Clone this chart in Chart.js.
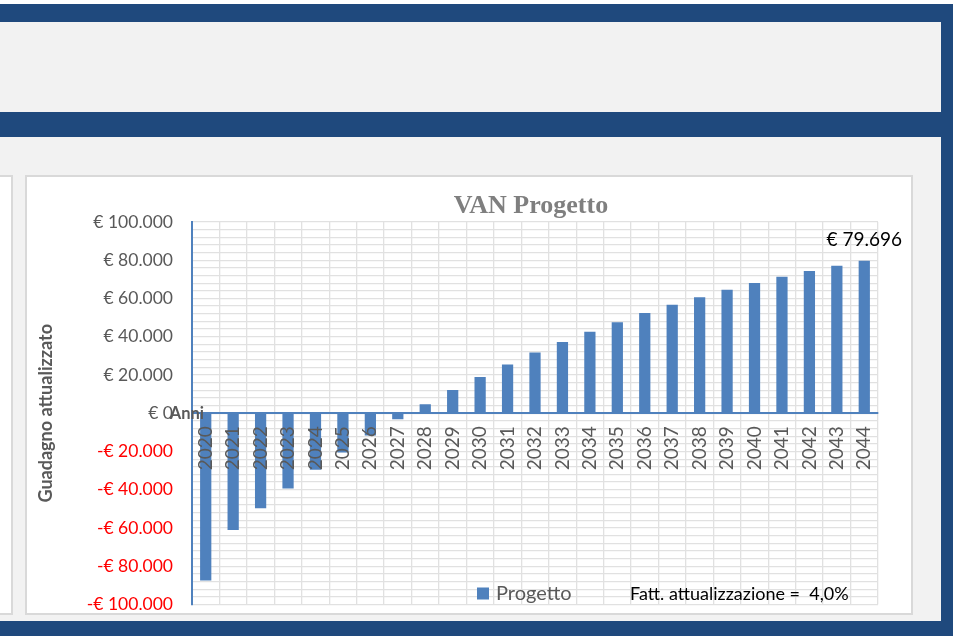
<!DOCTYPE html>
<html lang="it">
<head>
<meta charset="utf-8">
<title>VAN Progetto</title>
<script src="https://cdn.jsdelivr.net/npm/chart.js@4.4.1/dist/chart.umd.min.js"></script>
<style>
  html, body { margin: 0; padding: 0; background: #ffffff; }
  body { width: 967px; height: 636px; position: relative; overflow: hidden; }
  .blu { position: absolute; left: 0; top: 4px; width: 953px; height: 632px; background: #1f497d; }
  .grigio { position: absolute; left: 0; width: 941px; background: #f2f2f2; }
  .card { position: absolute; top: 175px; height: 440px; background: #fff; border: 2px solid #d9d9d9; box-sizing: border-box; }
  #grafico { position: absolute; left: 25px; top: 175px; }
</style>
</head>
<body>
<div class="blu"></div>
<div class="grigio" style="top:22px;height:90px"></div>
<div class="grigio" style="top:137px;height:484px"></div>
<div class="card" style="left:-2px;width:15px"></div>
<div class="card" style="left:25px;width:888px"></div>
<canvas id="grafico" width="888" height="459"></canvas>

<script>
// dati
var anni = ['2020', '2021', '2022', '2023', '2024', '2025', '2026', '2027', '2028', '2029',
            '2030', '2031', '2032', '2033', '2034', '2035', '2036', '2037', '2038', '2039',
            '2040', '2041', '2042', '2043', '2044'];
var van = [-87400, -61100, -49700, -39400, -29600, -20500, -11600, -3100, 4700, 12200,
           19000, 25500, 31800, 37300, 42600, 47600, 52400, 56700, 60700, 64600,
           68100, 71400, 74400, 77100, 79696];
var yMin = -100000, yMax = 100000, yPasso = 4000, yEtichetta = 20000;
var tasso = '4,0%';

var blu = '#4f81bd';
var griglia = '#e1e1e1';
var grigioTesto = '#595959';

function eur(v) {
    var s = Math.abs(v).toFixed(0).replace(/\B(?=(\d{3})+(?!\d))/g, '.');
    return (v < 0 ? '-' : '') + '€ ' + s;
}

Chart.defaults.font.family = 'Lato';

var decorazioni = {
    id: 'decorazioni',
    afterDraw: function(chart) {
        var ctx = chart.ctx;
        var area = chart.chartArea;
        var zero = chart.scales.y.getPixelForValue(0);
        ctx.save();

        // titolo
        ctx.font = 'bold 26px "Liberation Serif"';
        ctx.fillStyle = '#7f7f7f';
        ctx.textAlign = 'center';
        ctx.textBaseline = 'alphabetic';
        ctx.fillText('VAN Progetto', (area.left + area.right) / 2 - 4, area.top - 9);

        // etichetta ultimo valore
        var meta = chart.getDatasetMeta(0);
        var last = meta.data[meta.data.length - 1];
        ctx.font = '19px Lato';
        ctx.fillStyle = '#000000';
        ctx.fillText(eur(van[van.length - 1]), last.x, last.y - 15);

        // titolo asse x
        ctx.font = 'bold 16.5px Lato';
        ctx.fillStyle = grigioTesto;
        ctx.textAlign = 'right';
        ctx.textBaseline = 'middle';
        ctx.fillText('Anni', area.left + 12, zero);

        // legenda
        var lx = area.left + 285, ly = area.bottom - 5;
        ctx.fillStyle = blu;
        ctx.fillRect(lx, ly - 12, 12, 12);
        ctx.textAlign = 'left';
        ctx.textBaseline = 'alphabetic';
        ctx.font = '20px Lato';
        ctx.fillStyle = grigioTesto;
        ctx.fillText('Progetto', lx + 19, ly);
        ctx.font = '18px Lato';
        ctx.fillStyle = '#000000';
        ctx.fillText('Fatt. attualizzazione =  ' + tasso, area.left + 438, ly);

        ctx.restore();
    }
};

var ctx = document.getElementById('grafico').getContext('2d');
var chart = new Chart(ctx, {
    type: 'bar',
    data: {
        labels: anni,
        datasets: [{
            label: 'Progetto',
            data: van,
            backgroundColor: blu,
            barPercentage: 0.41,
            categoryPercentage: 1
        }]
    },
    options: {
        responsive: false,
        animation: false,
        layout: {
            padding: { left: 6, right: 35, top: 47, bottom: 11 }
        },
        plugins: {
            legend: { display: false },
            tooltip: { enabled: false }
        },
        scales: {
            x: {
                position: { y: 0 },
                grid: { offset: true, color: griglia, lineWidth: 1.3, drawTicks: false },
                border: { color: blu, width: 2 },
                ticks: {
                    autoSkip: false,
                    minRotation: 90,
                    maxRotation: 90,
                    padding: 13,
                    color: grigioTesto,
                    font: { size: 19 },
                    z: 1
                }
            },
            y: {
                min: yMin,
                max: yMax,
                grid: { color: griglia, lineWidth: 1.3, drawTicks: false },
                border: { color: blu, width: 2 },
                ticks: {
                    stepSize: yPasso,
                    autoSkip: false,
                    padding: 19,
                    font: { size: 17.5 },
                    color: function(c) {
                        return (c.tick && c.tick.value < 0) ? '#ff0000' : grigioTesto;
                    },
                    callback: function(v) {
                        return v % yEtichetta === 0 ? eur(v) : '';
                    }
                },
                title: {
                    display: true,
                    text: 'Guadagno attualizzato',
                    color: grigioTesto,
                    font: { size: 18, weight: 'bold' },
                    padding: { top: 4, bottom: 4 }
                },
                afterFit: function(s) { s.width = 161; }
            }
        }
    },
    plugins: [decorazioni]
});
</script>
</body>
</html>
